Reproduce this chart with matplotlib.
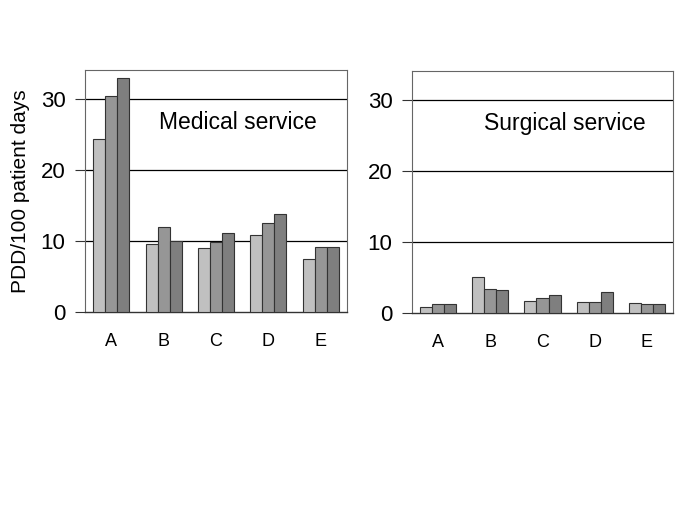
import matplotlib
matplotlib.use("Agg")
import matplotlib.pyplot as plt
import numpy as np

categories = ["A", "B", "C", "D", "E"]
medical_s1 = [24.4, 9.6, 9.0, 10.9, 7.5]
medical_s2 = [30.5, 12.0, 9.9, 12.5, 9.2]
medical_s3 = [33.0, 10.0, 11.1, 13.8, 9.1]
surgical_s1 = [0.9, 5.1, 1.7, 1.5, 1.45]
surgical_s2 = [1.2, 3.4, 2.1, 1.6, 1.2]
surgical_s3 = [1.3, 3.3, 2.5, 2.9, 1.2]
yticks = [0, 10, 20, 30]
panel_titles = ["Medical service", "Surgical service"]

colors = ["#c0c0c0", "#969696", "#7f7f7f"]

plt.rcParams['font.family'] = ['Liberation Sans', 'DejaVu Sans']

fig = plt.figure(figsize=(6.85, 5.13), dpi=100)
W, H = 685, 513
axes_px = [(85, 70, 347, 312), (412, 71, 673, 313)]
data = [(medical_s1, medical_s2, medical_s3), (surgical_s1, surgical_s2, surgical_s3)]

x = np.arange(len(categories))
bw = 0.23
for i, (l, t, r, b) in enumerate(axes_px):
    ax = fig.add_axes([l / W, 1 - b / H, (r - l) / W, (b - t) / H])
    for j, vals in enumerate(data[i]):
        ax.bar(x + (j - 1) * bw, vals, width=bw, color=colors[j],
               edgecolor="#333333", linewidth=0.8, zorder=3)
    ax.set_xlim(-0.5, len(categories) - 0.5)
    ax.set_ylim(0, 34.1)
    ax.set_yticks(yticks)
    ax.set_yticklabels([str(v) for v in yticks], fontsize=16)
    ax.set_xticks(x)
    ax.set_xticklabels(categories, fontsize=13)
    ax.tick_params(axis='x', length=0, pad=15)
    ax.tick_params(axis='y', length=7, width=0.8, color="#333333", pad=7)
    for v in yticks[1:]:
        ax.axhline(v, color="black", linewidth=0.9, zorder=1)
    for s in ["top", "right", "left"]:
        ax.spines[s].set_color("#666666")
        ax.spines[s].set_linewidth(0.8)
    ax.spines["bottom"].set_color("#333333")
    ax.spines["bottom"].set_linewidth(1.0)
    ax.text(0.585, 26.7 / 34.1, panel_titles[i], transform=ax.transAxes,
            fontsize=16.5, ha="center", va="center")
    if i == 0:
        ax.set_ylabel("PDD/100 patient days", fontsize=15, labelpad=8)

fig.savefig("out.png", dpi=100)
